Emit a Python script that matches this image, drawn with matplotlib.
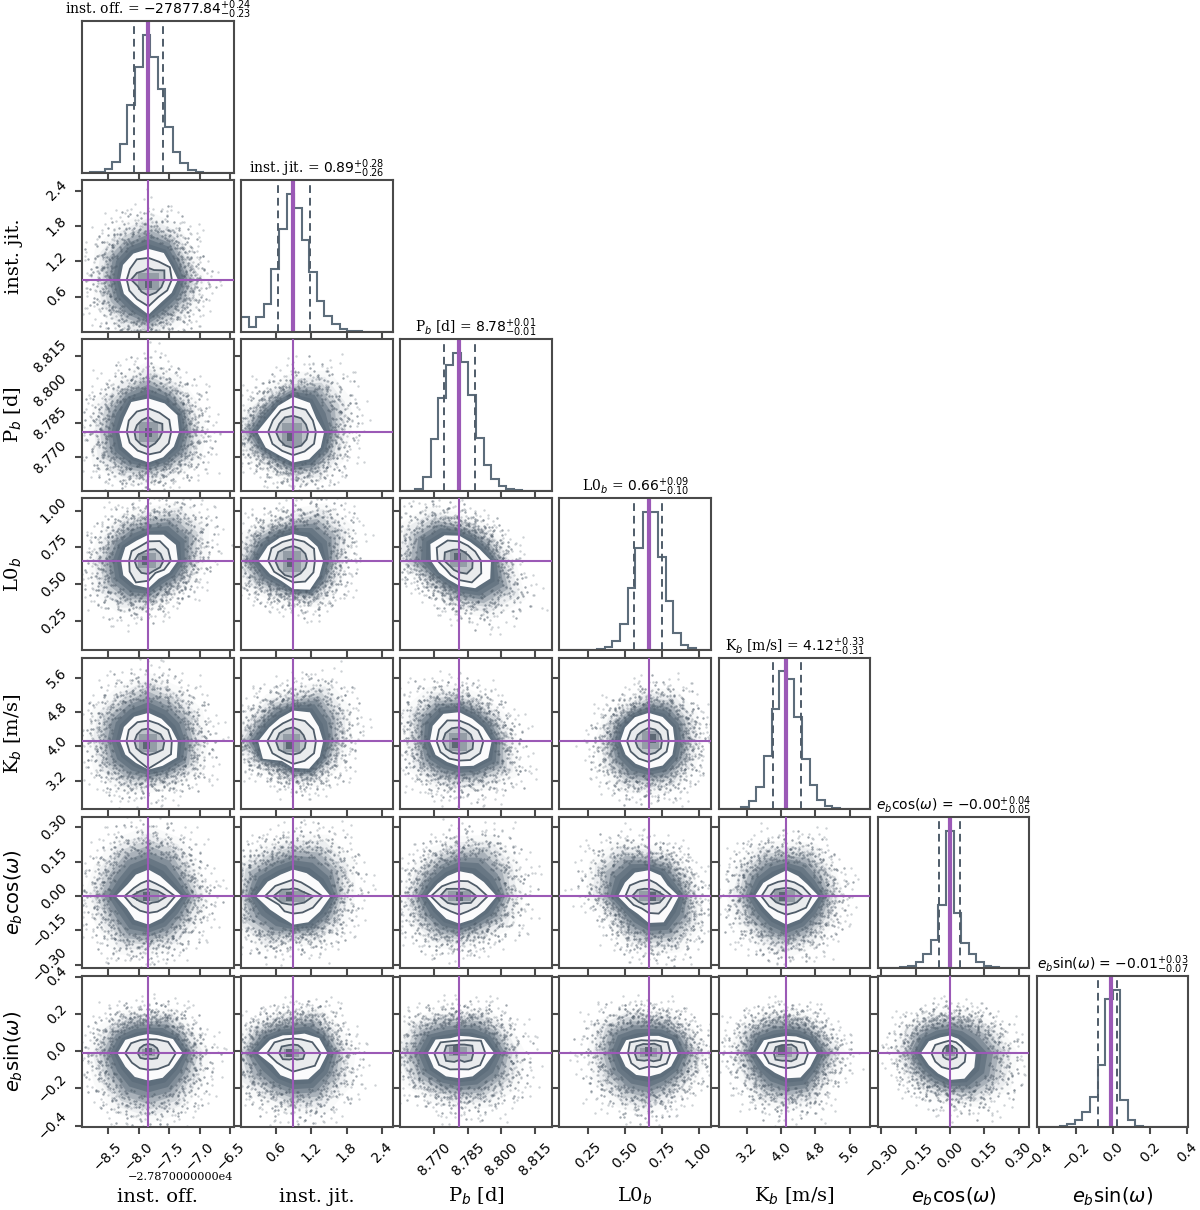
import numpy as np
import matplotlib
matplotlib.use('Agg')
import matplotlib.pyplot as plt

plt.rcParams['font.family'] = 'DejaVu Serif'
plt.rcParams['mathtext.fontset'] = 'dejavusans'

# parameter order: inst. off., inst. jit., P_b, L0_b, K_b, e cos w, e sin w
names = ['inst. off.', 'inst. jit.', 'P$_b$ [d]', 'L0$_b$', 'K$_b$ [m/s]',
         r'$e_b$cos($\omega$)', r'$e_b$sin($\omega$)']
titles = [r'inst. off. = $-27877.84^{+0.24}_{-0.23}$',
          r'inst. jit. = $0.89^{+0.28}_{-0.26}$',
          r'P$_b$ [d] = $8.78^{+0.01}_{-0.01}$',
          r'L0$_b$ = $0.66^{+0.09}_{-0.10}$',
          r'K$_b$ [m/s] = $4.12^{+0.33}_{-0.31}$',
          r'$e_b$cos($\omega$) = $-0.00^{+0.04}_{-0.05}$',
          r'$e_b$sin($\omega$) = $-0.01^{+0.03}_{-0.07}$']
medians = [-27877.84, 0.89, 8.7812, 0.66, 4.12, -0.001, -0.011]
q16 = [-27878.07, 0.63, 8.7745, 0.56, 3.81, -0.048, -0.08]
q84 = [-27877.60, 1.17, 8.7884, 0.75, 4.45, 0.044, 0.02]
limits = [(-27878.926, -27876.45), (0.005, 2.58), (8.7548, 8.8226), (0.054, 1.083),
          (2.53, 6.08), (-0.316, 0.347), (-0.41, 0.405)]
tick_vals = [[-27878.5, -27878.0, -27877.5, -27877.0, -27876.5],
             [0.6, 1.2, 1.8, 2.4],
             [8.770, 8.785, 8.800, 8.815],
             [0.25, 0.50, 0.75, 1.00],
             [3.2, 4.0, 4.8, 5.6],
             [-0.30, -0.15, 0.00, 0.15, 0.30],
             [-0.4, -0.2, 0.0, 0.2, 0.4]]
tick_text = [['\u22128.5', '\u22128.0', '\u22127.5', '\u22127.0', '\u22126.5'],
             ['0.6', '1.2', '1.8', '2.4'],
             ['8.770', '8.785', '8.800', '8.815'],
             ['0.25', '0.50', '0.75', '1.00'],
             ['3.2', '4.0', '4.8', '5.6'],
             ['\u22120.30', '\u22120.15', '0.00', '0.15', '0.30'],
             ['\u22120.4', '\u22120.2', '0.0', '0.2', '0.4']]

# histogram heights, 20 bins per panel
hist_off = [0, 1, 3, 12, 33, 87, 203, 317, 414, 347, 252, 138, 63, 30, 9, 3, 0, 0, 0, 0]
hist_jit = [43, 15, 43, 83, 187, 307, 413, 372, 275, 178, 91, 48, 23, 9, 3, 1, 0, 0, 0, 0]
hist_per = [0, 0, 2, 14, 52, 92, 125, 137, 128, 95, 53, 26, 12, 5, 2, 1, 0, 0, 0, 0]
hist_l0 = [0, 0, 0, 0, 1, 3, 10, 28, 77, 185, 305, 412, 412, 278, 145, 50, 15, 5, 1, 0]
hist_k = [0, 0, 1, 6, 23, 66, 158, 300, 413, 391, 275, 150, 71, 26, 8, 4, 1, 0, 0, 0]
hist_ec = [0, 0, 1, 3, 8, 20, 44, 85, 190, 413, 165, 77, 43, 19, 7, 3, 1, 0, 0, 0]
hist_es = [0, 0, 1, 4, 10, 21, 47, 91, 186, 385, 413, 83, 22, 5, 1, 0, 0, 0, 0, 0]
hists = [hist_off, hist_jit, hist_per, hist_l0, hist_k, hist_ec, hist_es]

# 2D panels as (row, col); radii read every 30 deg from the median crossing, at 454 per panel width
pairs = [(1, 0), (2, 0), (3, 0), (4, 0), (5, 0), (6, 0),
         (2, 1), (3, 1), (4, 1), (5, 1), (6, 1),
         (3, 2), (4, 2), (5, 2), (6, 2),
         (4, 3), (5, 3), (6, 3),
         (5, 4), (6, 4),
         (6, 5)]
cloud_r = [[137, 128, 150, 165, 150, 148, 138, 142, 146, 150, 135, 135],
           [140, 140, 150, 170, 150, 150, 145, 155, 140, 130, 130, 145],
           [140, 170, 165, 130, 130, 135, 145, 155, 145, 125, 110, 120],
           [145, 150, 150, 165, 150, 155, 150, 150, 140, 125, 130, 150],
           [150, 140, 160, 170, 160, 150, 155, 145, 160, 145, 145, 140],
           [150, 125, 125, 105, 120, 135, 150, 150, 165, 170, 165, 150],
           [140, 160, 170, 143, 125, 130, 155, 130, 115, 130, 140, 140],
           [135, 165, 160, 125, 120, 140, 155, 135, 110, 110, 130, 130],
           [140, 160, 170, 130, 130, 130, 155, 125, 100, 110, 125, 130],
           [150, 170, 170, 150, 145, 165, 155, 160, 150, 120, 135, 145],
           [150, 130, 130, 105, 110, 135, 157, 155, 140, 150, 165, 160],
           [135, 115, 110, 115, 150, 170, 160, 110, 105, 125, 160, 185],
           [140, 130, 125, 135, 150, 155, 135, 140, 130, 125, 135, 165],
           [155, 165, 170, 145, 135, 135, 145, 140, 140, 130, 125, 150],
           [160, 140, 125, 105, 120, 150, 165, 155, 135, 135, 150, 165],
           [130, 135, 140, 130, 115, 125, 130, 135, 140, 130, 135, 130],
           [130, 120, 125, 125, 155, 165, 150, 115, 130, 140, 155, 150],
           [145, 125, 115, 105, 125, 150, 150, 150, 150, 150, 130, 135],
           [140, 135, 145, 135, 145, 145, 145, 140, 140, 150, 140, 135],
           [145, 120, 110, 105, 115, 135, 140, 130, 140, 140, 145, 130],
           [165, 135, 115, 105, 115, 130, 140, 125, 120, 125, 150, 170]]
white_r = [[88, 80, 92, 92, 90, 88, 85, 85, 84, 105, 78, 80],
           [92, 100, 98, 100, 103, 85, 88, 90, 88, 92, 88, 88],
           [88, 95, 90, 78, 70, 80, 82, 87, 84, 82, 62, 72],
           [88, 78, 78, 85, 85, 85, 85, 80, 75, 85, 85, 98],
           [100, 72, 70, 80, 75, 72, 98, 74, 82, 85, 77, 77],
           [103, 85, 62, 58, 60, 80, 93, 80, 82, 82, 85, 85],
           [93, 80, 100, 105, 90, 85, 108, 95, 82, 92, 95, 95],
           [90, 84, 82, 80, 80, 88, 105, 80, 70, 85, 100, 90],
           [90, 88, 100, 92, 80, 83, 105, 105, 68, 80, 95, 92],
           [112, 88, 80, 80, 75, 88, 112, 80, 72, 85, 90, 92],
           [103, 90, 68, 55, 62, 80, 108, 72, 76, 80, 90, 92],
           [95, 70, 65, 75, 88, 100, 85, 70, 65, 75, 95, 107],
           [97, 82, 78, 87, 95, 92, 88, 82, 72, 75, 85, 100],
           [112, 85, 78, 75, 70, 75, 98, 78, 78, 82, 80, 87],
           [105, 85, 58, 52, 52, 82, 95, 88, 80, 75, 80, 85],
           [78, 84, 84, 85, 83, 82, 85, 80, 78, 82, 84, 82],
           [90, 65, 72, 78, 82, 82, 92, 68, 62, 80, 90, 80],
           [88, 80, 60, 52, 55, 78, 88, 80, 75, 70, 70, 78],
           [97, 72, 70, 78, 70, 80, 95, 75, 76, 85, 80, 80],
           [92, 76, 58, 52, 55, 78, 92, 75, 68, 75, 84, 82],
           [78, 52, 50, 53, 55, 72, 87, 72, 70, 80, 88, 85]]
mid_r = [[70, 74, 62, 65, 70, 64, 65, 66, 68, 80, 60, 65],
         [68, 72, 66, 70, 70, 68, 65, 65, 65, 68, 70, 70],
         [67, 68, 68, 58, 50, 58, 58, 65, 75, 60, 42, 54],
         [70, 68, 60, 62, 66, 68, 66, 65, 65, 82, 70, 78],
         [80, 52, 44, 48, 45, 50, 72, 56, 50, 50, 53, 62],
         [82, 68, 48, 42, 46, 60, 70, 57, 52, 50, 55, 70],
         [68, 68, 76, 76, 74, 70, 75, 72, 66, 70, 68, 72],
         [65, 72, 66, 65, 65, 75, 75, 66, 58, 65, 72, 70],
         [68, 70, 70, 68, 62, 68, 78, 72, 62, 68, 68, 72],
         [88, 55, 48, 50, 48, 62, 85, 50, 52, 52, 56, 68],
         [82, 66, 48, 44, 48, 65, 78, 56, 50, 55, 55, 75],
         [65, 55, 52, 58, 70, 78, 65, 48, 50, 58, 75, 76],
         [72, 65, 58, 62, 72, 70, 68, 65, 60, 58, 65, 72],
         [85, 60, 52, 46, 47, 60, 85, 62, 52, 55, 52, 62],
         [78, 75, 45, 38, 42, 65, 75, 70, 56, 48, 56, 72],
         [60, 65, 64, 65, 60, 62, 65, 62, 60, 62, 58, 62],
         [70, 48, 45, 50, 52, 65, 70, 52, 42, 50, 60, 60],
         [65, 66, 44, 38, 45, 65, 62, 60, 55, 40, 48, 62],
         [75, 56, 48, 48, 50, 63, 75, 60, 52, 55, 55, 68],
         [65, 62, 42, 38, 42, 62, 68, 60, 46, 45, 48, 62],
         [48, 40, 38, 38, 38, 50, 55, 50, 48, 48, 50, 52]]
inner_r = [[48, 55, 33, 35, 30, 40, 52, 38, 42, 48, 45, 45],
           [42, 48, 36, 44, 40, 40, 42, 44, 44, 47, 40, 38],
           [45, 42, 40, 33, 30, 36, 42, 40, 42, 40, 34, 40],
           [48, 42, 34, 38, 40, 40, 42, 42, 40, 42, 41, 50],
           [55, 32, 22, 22, 23, 30, 52, 30, 23, 24, 22, 33],
           [32, 30, 28, 28, 28, 30, 32, 28, 20, 16, 20, 30],
           [45, 44, 47, 48, 50, 48, 52, 48, 48, 48, 48, 46],
           [42, 42, 42, 44, 44, 52, 54, 50, 50, 50, 44, 42],
           [38, 36, 38, 42, 42, 48, 52, 50, 42, 40, 40, 40],
           [60, 30, 25, 24, 24, 40, 60, 40, 28, 26, 26, 38],
           [35, 30, 28, 26, 28, 40, 42, 36, 22, 16, 22, 34],
           [40, 32, 30, 34, 38, 50, 45, 32, 32, 35, 45, 45],
           [42, 40, 38, 42, 45, 48, 50, 46, 40, 38, 40, 46],
           [52, 35, 26, 22, 26, 44, 58, 40, 28, 24, 24, 40],
           [42, 45, 30, 26, 28, 45, 46, 46, 30, 20, 30, 42],
           [40, 40, 40, 40, 36, 38, 40, 38, 38, 40, 40, 42],
           [50, 30, 24, 22, 26, 38, 50, 34, 28, 22, 26, 38],
           [40, 42, 33, 27, 32, 42, 42, 40, 26, 20, 28, 40],
           [50, 34, 27, 25, 27, 40, 50, 36, 28, 26, 28, 36],
           [35, 34, 30, 25, 28, 37, 38, 38, 26, 22, 28, 34],
           [22, 24, 22, 25, 24, 22, 22, 22, 20, 20, 20, 24]]
# darkest 2D bin, offset from the median crossing
core_dx = [0, 0, -8, -5, -5, 0, -8, -8, -10, -10, -10, -5, -10, 0, -8, 12, 10, 0, -12, -15, 0]
core_dy = [-12, -2, 0, -10, 0, 5, -15, -5, -10, 0, 0, 10, -5, 0, 10, 8, 0, 5, 0, 8, 12]

# stray samples outside the dense cloud: direction (deg) and distance relative to the cloud edge
stray_ang = [4, 11, 19, 26, 33, 41, 47, 55, 62, 68, 74, 83, 88, 96, 103, 109, 117, 124, 131, 138,
             146, 152, 159, 167, 174, 181, 188, 196, 203, 211, 218, 225, 233, 241, 248, 255, 263,
             270, 277, 284, 292, 299, 306, 314, 321, 329, 336, 344, 351, 357, 8, 23, 37, 52, 66,
             79, 93, 107, 121, 135, 149, 163, 177, 191, 205, 219, 229, 244, 258, 272, 286, 301,
             315, 327, 341, 354, 15, 44, 71, 99, 128, 156, 184, 214, 239, 267, 295, 323, 348, 30,
             58, 86, 114, 142, 170, 198, 226, 254, 282, 310, 338, 6, 48, 91, 137, 172, 208, 251,
             289, 333]
stray_fac = [1.22, 1.05, 1.41, 1.12, 1.31, 1.08, 1.52, 1.18, 1.27, 1.06, 1.44, 1.15, 1.33, 1.09,
             1.25, 1.58, 1.11, 1.36, 1.07, 1.21, 1.47, 1.13, 1.29, 1.04, 1.38, 1.17, 1.55, 1.1,
             1.24, 1.34, 1.06, 1.42, 1.19, 1.28, 1.09, 1.5, 1.14, 1.3, 1.05, 1.39, 1.2, 1.62,
             1.12, 1.26, 1.08, 1.45, 1.16, 1.35, 1.07, 1.23, 1.68, 1.6, 1.74, 1.66, 1.71, 1.56,
             1.78, 1.64, 1.7, 1.53, 1.76, 1.61, 1.72, 1.57, 1.69, 1.82, 1.54, 1.63, 1.75, 1.59,
             1.67, 1.8, 1.52, 1.73, 1.65, 1.58, 1.03, 1.02, 1.04, 1.03, 1.02, 1.05, 1.03, 1.02,
             1.04, 1.03, 1.05, 1.02, 1.04, 1.1, 1.13, 1.09, 1.16, 1.11, 1.14, 1.08, 1.17, 1.1,
             1.12, 1.15, 1.09, 1.9, 1.95, 2.05, 1.88, 2.0, 1.92, 1.98, 2.1, 1.86]

slate = '#5d6d7b'
dark = '#4f5c69'
purple = '#9b59b6'
frame = '#4a4a4a'
READ = 454.0
angles = np.deg2rad(np.arange(0, 360, 30))


def outline(r, row, col, scale=1.0):
    r = np.array(r) * scale / READ
    xs = medians[col] + r * np.cos(angles) * (limits[col][1] - limits[col][0])
    ys = medians[row] + r * np.sin(angles) * (limits[row][1] - limits[row][0])
    return xs, ys


def box(ax, row, col, dx, dy, hw, hh, color, z):
    xw = limits[col][1] - limits[col][0]
    yw = limits[row][1] - limits[row][0]
    cx = medians[col] + dx / READ * xw
    cy = medians[row] + dy / READ * yw
    ax.fill([cx - hw / READ * xw, cx + hw / READ * xw, cx + hw / READ * xw, cx - hw / READ * xw],
            [cy - hh / READ * yw, cy - hh / READ * yw, cy + hh / READ * yw, cy + hh / READ * yw],
            color=color, lw=0, zorder=z)


def font_for(i):
    return 'DejaVu Sans' if i >= 5 else 'DejaVu Serif'


fig = plt.figure(figsize=(12, 12.1), dpi=100)
axes = {}
for row in range(7):
    for col in range(row + 1):
        left = 82.0 + 159.15 * col
        top = 21.0 + 159.15 * row
        ax = fig.add_axes([left / 1200, 1 - (top + 151.5) / 1210, 151.5 / 1200, 151.5 / 1210])
        axes[(row, col)] = ax
        ax.set_xlim(limits[col])
        ax.set_xticks(tick_vals[col])
        for s in ax.spines.values():
            s.set_color(frame)
            s.set_linewidth(1.5)
        ax.tick_params(length=5, width=1.5, color=frame, labelsize=10, pad=4)
        ax.tick_params(labelbottom=False, labelleft=False)

# diagonal
for i in range(7):
    ax = axes[(i, i)]
    edges = np.linspace(limits[i][0], limits[i][1], 21)
    ax.stairs(hists[i], edges, color=slate, lw=1.5)
    ax.set_ylim(0, 1.1 * max(hists[i]))
    ax.set_yticks([])
    ax.axvline(q16[i], color=dark, ls='--', lw=1.4, dashes=(4, 2.5))
    ax.axvline(q84[i], color=dark, ls='--', lw=1.4, dashes=(4, 2.5))
    ax.axvline(medians[i], color=purple, lw=3)
    ax.set_title(titles[i], fontsize=10, family=font_for(i), pad=0.5)

# lower triangle
stray_layers = [(0, 1.0), (67, 0.95), (133, 0.85), (199, 0.78), (263, 0.9), (311, 0.98), (29, 0.72)]
for n, (row, col) in enumerate(pairs):
    ax = axes[(row, col)]
    ax.set_ylim(limits[row])
    ax.set_yticks(tick_vals[row])
    cloud = np.array(cloud_r[n], dtype=float)
    white = np.array(white_r[n], dtype=float)
    for r, alpha in [(cloud * 1.25, 0.03), (cloud * 1.12, 0.08), (cloud, 0.2),
                     (white + 0.8 * (cloud - white), 0.32), (white + 0.6 * (cloud - white), 0.5),
                     (white + 0.4 * (cloud - white), 0.7), (white + 0.2 * (cloud - white), 0.85)]:
        ax.fill(*outline(r, row, col), color=slate, alpha=alpha, lw=0, zorder=1)
    # scatter samples, turned per panel so the panels do not repeat
    for rot, shrink in stray_layers:
        sa = (np.array(stray_ang) + 41 * n + rot) % 360
        edge = np.interp(sa, np.append(np.arange(0, 360, 30), 360), np.append(cloud, cloud[0]))
        fac = 1 + (np.array(stray_fac) - 1) * 0.62
        rr = edge * fac * shrink / READ
        sx = medians[col] + rr * np.cos(np.deg2rad(sa)) * (limits[col][1] - limits[col][0])
        sy = medians[row] + rr * np.sin(np.deg2rad(sa)) * (limits[row][1] - limits[row][0])
        ax.scatter(sx, sy, s=3, color=dark, alpha=0.28 if shrink > 0.92 else 0.55, lw=0, zorder=2)
    ax.fill(*outline(white_r[n], row, col), color='#fbfbfc', lw=0, zorder=3)
    ax.fill(*outline(mid_r[n], row, col), color='#e9ebed', lw=0, zorder=4)
    ax.fill(*outline(inner_r[n], row, col), color='#bcc2c8', lw=0, zorder=5)
    hw = min(inner_r[n][0], inner_r[n][6]) * 0.65
    hh = min(inner_r[n][3], inner_r[n][9]) * 0.7
    box(ax, row, col, core_dx[n] * 0.5, core_dy[n] * 0.5, hw, hh, '#949da6', 5.5)
    box(ax, row, col, core_dx[n], core_dy[n], 11, min(14, hh), '#5c6873', 6)
    ax.fill(*outline(mid_r[n], row, col), fill=False, ec=dark, lw=1.3, zorder=7)
    ax.fill(*outline(inner_r[n], row, col), fill=False, ec=dark, lw=1.3, zorder=7)
    ax.axvline(medians[col], color=purple, lw=1.5, zorder=8)
    ax.axhline(medians[row], color=purple, lw=1.5, zorder=8)

# outer labels
for i in range(7):
    ax = axes[(6, i)]
    ax.tick_params(labelbottom=True)
    ax.set_xticklabels(tick_text[i], rotation=45, ha='center', family='DejaVu Sans')
    ax.set_xlabel(names[i], fontsize=14, family=font_for(i), va='center')
    ax.xaxis.set_label_coords(0.5, -0.457)
for i in range(1, 7):
    ax = axes[(i, 0)]
    ax.tick_params(labelleft=True)
    ax.set_yticklabels(tick_text[i], rotation=45, va='center', family='DejaVu Sans')
    ax.set_ylabel(names[i], fontsize=14, family=font_for(i), va='center')
    ax.yaxis.set_label_coords(-0.45, 0.5)

axes[(6, 0)].text(1.0, -0.325, '\u22122.7870000000e4', transform=axes[(6, 0)].transAxes,
                  ha='right', va='center', fontsize=8.1, family='DejaVu Serif')

fig.savefig('out.png', dpi=100)
